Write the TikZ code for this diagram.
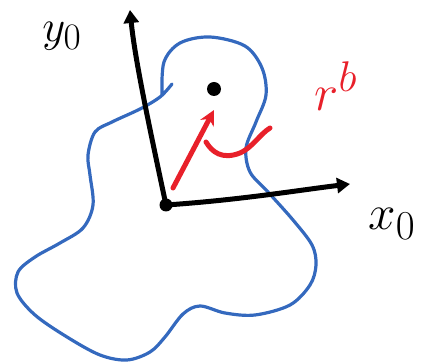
\documentclass[tikz,border=0pt]{standalone}
\usetikzlibrary{arrows.meta}
\definecolor{blobblue}{RGB}{52,105,190}
\definecolor{vecred}{RGB}{232,32,42}
\tikzset{
  blob/.style={draw=blobblue, line width=3.2pt, line cap=round, line join=round},
  axis/.style={draw=black, line width=5pt, line cap=round, -{Triangle[length=13pt,width=15pt]}},
  vec/.style={draw=vecred, line width=5pt, line cap=round, -{Stealth[length=15pt,width=15pt]}},
  squig/.style={draw=vecred, line width=5pt, line cap=round, line join=round},
  lbl/.style={inner sep=0pt, font=\Huge, scale=1.8}
}
\begin{document}
\begin{tikzpicture}[x=1pt,y=-1pt]
\useasboundingbox (0,0) rectangle (440,363);
% blue blob
\draw[blob] plot[smooth, tension=0.55] coordinates {
 (162,94) (164,62) (180,43) (210,37) (245,46) (262,68) (266,95) (256,122)
 (246,148) (250,172) (268,192) (293,220) (312,245) (316,265) (310,285)
 (290,305) (255,315) (225,313) (200,306) (183,314) (165,337) (150,352)
 (127,360) (100,355) (67,337) (35,315) (17,293) (18,272) (35,257) (60,243)
 (83,228) (93,205) (90,175) (88,155) (95,132) (112,122) (140,109) (160,97) (172,84)};
% origin and axes
\coordinate (O) at (166,205);
\coordinate (Y) at (130,10);
\coordinate (X) at (350,184);
\fill (O) circle (6.5pt);
\draw[axis] (O) .. controls (150,130) and (135,60) .. (Y);
\draw[axis] (O) .. controls (240,200) and (300,190) .. (X);
% point
\coordinate (P) at (214,89);
\fill (P) circle (7pt);
% red vector
\coordinate (R0) at (173,188);
\coordinate (R1) at (214,110);
\draw[vec] (R0) -- (R1);
\coordinate (S0) at (206,142);
\coordinate (S1) at (270,128);
\draw[squig] (S0) .. controls (212,152) and (222,160) .. (240,153) .. controls (252,148) and (260,134) .. (S1);
% labels
\node[lbl] (ylab) at (62,36) {$y_0$};
\node[lbl, scale=1.1] (xlab) at (392,224) {$x_0$};
\node[lbl, text=vecred, scale=1.15] (rlab) at (336,86) {$r^b$};
\end{tikzpicture}
\end{document}
